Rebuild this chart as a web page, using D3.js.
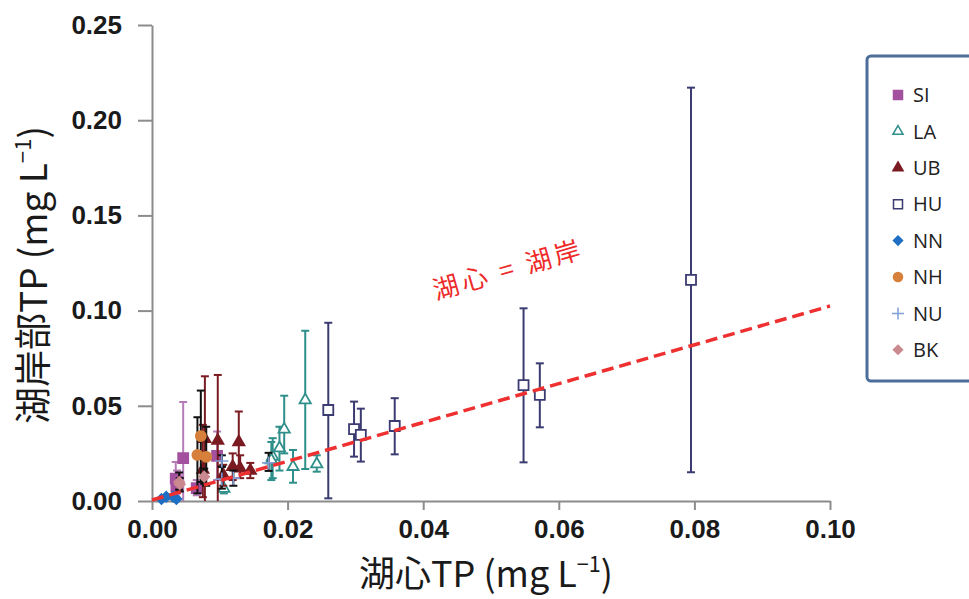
<!DOCTYPE html>
<html>
<head>
<meta charset="utf-8">
<script src="https://cdn.jsdelivr.net/npm/d3@7"></script>
<style>
  body { margin: 0; background: #fff; }
  svg { display: block; }
  .tick text { font-family: "Liberation Sans", Arial, sans-serif; font-weight: bold; font-size: 26px; fill: #1a1a1a; }
</style>
</head>
<body>
<svg id="chart" width="969" height="599"></svg>
<script>
// ticks
let xTicks = [0, 0.02, 0.04, 0.06, 0.08, 0.10];
let yTicks = [0, 0.05, 0.10, 0.15, 0.20, 0.25];

// each point: [lake centre TP, shore TP, error bar low, error bar high]
let SI = [
    [0.0046, 0.0225, 0.0000, 0.0520],
    [0.0035, 0.0118, 0.0030, 0.0205],
    [0.0037, 0.0100, 0.0040, 0.0160],
    [0.0036, 0.0077, 0.0020, 0.0130],
    [0.0066, 0.0068, 0.0030, 0.0110],
    [0.0096, 0.0237, 0.0110, 0.0365]
];
let LA = [
    [0.0106, 0.0065, 0.0040, 0.0120],
    [0.0178, 0.0233, 0.0120, 0.0330],
    [0.0176, 0.0215, 0.0110, 0.0310],
    [0.0188, 0.0278, 0.0160, 0.0390],
    [0.0195, 0.0376, 0.0250, 0.0553],
    [0.0208, 0.0180, 0.0096, 0.0268],
    [0.0226, 0.0530, 0.0168, 0.0894],
    [0.0243, 0.0194, 0.0154, 0.0240]
];
let UB = [
    [0.0078, 0.0326, 0.0000, 0.0655],
    [0.0097, 0.0317, 0.0000, 0.0662],
    [0.0075, 0.0165, 0.0020, 0.0400],
    [0.0128, 0.0310, 0.0180, 0.0470],
    [0.0105, 0.0137, 0.0080, 0.0190],
    [0.0119, 0.0180, 0.0110, 0.0250],
    [0.0130, 0.0172, 0.0120, 0.0240],
    [0.0145, 0.0160, 0.0120, 0.0200]
];
let HU = [
    [0.0260, 0.0478, 0.0014, 0.0936],
    [0.0298, 0.0378, 0.0233, 0.0522],
    [0.0308, 0.0347, 0.0207, 0.0485],
    [0.0358, 0.0394, 0.0245, 0.0540],
    [0.0548, 0.0609, 0.0203, 0.1012],
    [0.0572, 0.0557, 0.0387, 0.0723],
    [0.0795, 0.1161, 0.0151, 0.2171]
];
let NN = [
    [0.0014, 0.0010, 0.0010, 0.0010],
    [0.0021, 0.0022, 0.0022, 0.0022],
    [0.0031, 0.0022, 0.0022, 0.0022],
    [0.0036, 0.0010, 0.0010, 0.0010]
];
let NH = [
    [0.0072, 0.0341, 0.0100, 0.0580],
    [0.0067, 0.0242, 0.0040, 0.0440],
    [0.0080, 0.0232, 0.0080, 0.0390]
];
let NU = [
    [0.0103, 0.0210, 0.0180, 0.0240],
    [0.0103, 0.0115, 0.0065, 0.0180],
    [0.0120, 0.0120, 0.0080, 0.0160],
    [0.0172, 0.0200, 0.0158, 0.0253]
];
let BK = [
    [0.0040, 0.0100, 0.0060, 0.0150],
    [0.0077, 0.0128, 0.0090, 0.0170],
    [0.0041, 0.0088, 0.0050, 0.0120]
];

// 1:1 reference line as drawn
let refLine = [[0, 0.0005], [0.1, 0.1024]];

let series = [
    { name: 'SI', data: SI, shape: 'square', fill: '#a3519f', stroke: '#a3519f', bar: '#b67cb9' },
    { name: 'LA', data: LA, shape: 'triangle', fill: '#fff', stroke: '#2f8f8a', bar: '#2f8f8a' },
    { name: 'UB', data: UB, shape: 'triangle', fill: '#7a1b22', stroke: '#7a1b22', bar: '#7a1b22' },
    { name: 'HU', data: HU, shape: 'square', fill: '#fff', stroke: '#3b3b72', bar: '#3b3b72' },
    { name: 'NN', data: NN, shape: 'diamond', fill: '#1f6fc4', stroke: '#1f6fc4', bar: 'none' },
    { name: 'NH', data: NH, shape: 'circle', fill: '#d6803b', stroke: '#d6803b', bar: '#111' },
    { name: 'NU', data: NU, shape: 'plus', fill: 'none', stroke: '#7f9fd6', bar: '#111' },
    { name: 'BK', data: BK, shape: 'diamond', fill: '#c9898f', stroke: '#c9898f', bar: '#111' }
];

let svg = d3.select('#chart');

let x = d3.scaleLinear().domain([0, 0.1]).range([152, 830]);
let y = d3.scaleLinear().domain([0, 0.25]).range([501, 25]);

// axes
let gx = svg.append('g')
    .attr('transform', 'translate(0,' + y(0) + ')')
    .call(d3.axisBottom(x).tickValues(xTicks).tickFormat(d3.format('.2f'))
        .tickSize(9).tickSizeOuter(0).tickPadding(10));
let gy = svg.append('g')
    .attr('transform', 'translate(' + x(0) + ',0)')
    .call(d3.axisLeft(y).tickValues(yTicks).tickFormat(d3.format('.2f'))
        .tickSize(14).tickSizeOuter(0).tickPadding(16));
svg.selectAll('.domain, .tick line')
    .attr('stroke', '#8c8c8c')
    .attr('stroke-width', 2);

function symbolPath(shape, s) {
    if (shape == 'square') return d3.symbol(d3.symbolSquare, s * s)();
    if (shape == 'triangle') return d3.symbol(d3.symbolTriangle, s * s * 0.55)();
    if (shape == 'diamond') return 'M0,' + (-s / 2) + 'L' + (s / 2) + ',0L0,' + (s / 2) + 'L' + (-s / 2) + ',0Z';
    if (shape == 'circle') return d3.symbol(d3.symbolCircle, s * s * 0.8)();
    if (shape == 'plus') return 'M' + (-s / 2) + ',0H' + (s / 2) + 'M0,' + (-s / 2) + 'V' + (s / 2);
}

let plot = svg.append('g');

series.forEach(function(sr) {
    let g = plot.append('g');
    if (sr.bar != 'none') {
        let bars = g.selectAll('.bar')
            .data(sr.data.filter(function(d) { return d[3] > d[2]; }))
            .enter().append('g')
            .attr('stroke', sr.bar)
            .attr('stroke-width', 2);
        bars.append('line')
            .attr('x1', function(d) { return x(d[0]); })
            .attr('x2', function(d) { return x(d[0]); })
            .attr('y1', function(d) { return y(d[2]); })
            .attr('y2', function(d) { return y(d[3]); });
        bars.append('line')
            .attr('x1', function(d) { return x(d[0]) - 4; })
            .attr('x2', function(d) { return x(d[0]) + 4; })
            .attr('y1', function(d) { return y(d[3]); })
            .attr('y2', function(d) { return y(d[3]); });
        bars.filter(function(d) { return d[2] > 0.0005; })
            .append('line')
            .attr('x1', function(d) { return x(d[0]) - 4; })
            .attr('x2', function(d) { return x(d[0]) + 4; })
            .attr('y1', function(d) { return y(d[2]); })
            .attr('y2', function(d) { return y(d[2]); });
    }
    g.selectAll('.pt')
        .data(sr.data)
        .enter().append('path')
        .attr('transform', function(d) { return 'translate(' + x(d[0]) + ',' + y(d[1]) + ')'; })
        .attr('d', symbolPath(sr.shape, sr.shape == 'plus' ? 13 : 10))
        .attr('fill', sr.fill)
        .attr('stroke', sr.stroke)
        .attr('stroke-width', sr.shape == 'plus' ? 1.6 : 1.8);
});

// dashed 1:1 line
svg.append('path')
    .datum(refLine)
    .attr('d', d3.line().x(function(d) { return x(d[0]); }).y(function(d) { return y(d[1]); }))
    .attr('fill', 'none')
    .attr('stroke', '#ee3030')
    .attr('stroke-width', 3.5)
    .attr('stroke-dasharray', '12,6');

svg.append('text')
    .attr('transform', 'translate(509,279) rotate(-16)')
    .attr('text-anchor', 'middle')
    .attr('font-family', '"Noto Sans CJK JP", sans-serif')
    .attr('font-size', 26)
    .attr('fill', '#ee2a2a')
    .attr('textLength', 152)
    .attr('lengthAdjust', 'spacing')
    .text('湖心 = 湖岸');

// axis titles
function unitTitle(sel, main) {
    sel.append('tspan').text(main + ' (mg L');
    sel.append('tspan').attr('font-size', '0.6em').attr('dy', '-0.7em').text('−1');
    sel.append('tspan').attr('dy', '0.42em').text(')');
}
svg.append('text')
    .attr('x', 486).attr('y', 587)
    .attr('text-anchor', 'middle')
    .attr('font-family', '"Noto Sans CJK JP", sans-serif')
    .attr('font-size', 36)
    .attr('fill', '#1a1a1a')
    .call(unitTitle, '湖心TP');
svg.append('text')
    .attr('transform', 'translate(47,275) rotate(-90)')
    .attr('text-anchor', 'middle')
    .attr('font-family', '"Noto Sans CJK JP", sans-serif')
    .attr('font-size', 37)
    .attr('fill', '#1a1a1a')
    .call(unitTitle, '湖岸部TP');

// legend
let legend = svg.append('g');
legend.append('rect')
    .attr('x', 867).attr('y', 56)
    .attr('width', 200).attr('height', 325)
    .attr('rx', 4)
    .attr('fill', '#fff')
    .attr('stroke', '#4d6d9b')
    .attr('stroke-width', 3);
let items = legend.selectAll('.item')
    .data(series)
    .enter().append('g')
    .attr('transform', function(d, i) { return 'translate(898,' + (95 + i * 36.4) + ')'; });
items.append('path')
    .attr('d', function(d) { return symbolPath(d.shape, d.shape == 'plus' ? 12 : 9); })
    .attr('fill', function(d) { return d.fill; })
    .attr('stroke', function(d) { return d.stroke; })
    .attr('stroke-width', 1.5);
items.append('text')
    .attr('x', 15).attr('dy', '0.36em')
    .attr('font-family', '"Open Sans", "Noto Sans", sans-serif')
    .attr('font-size', 20)
    .attr('fill', '#222')
    .text(function(d) { return d.name; });
</script>
</body>
</html>
